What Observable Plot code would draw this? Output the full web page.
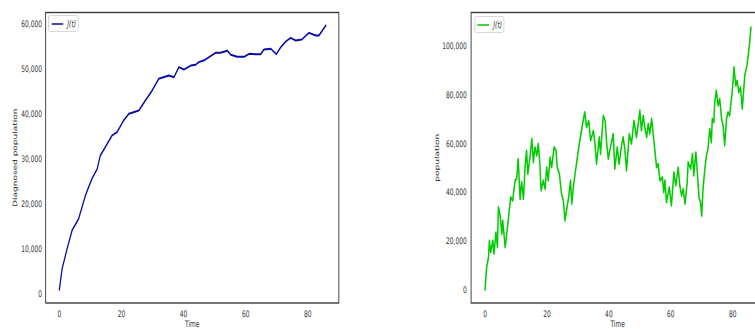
<!DOCTYPE html>
<html>
<head>
<meta charset="utf-8">
<script src="https://cdn.jsdelivr.net/npm/d3@7"></script>
<script src="https://cdn.jsdelivr.net/npm/@observablehq/plot@0.6"></script>
<style>
html, body { margin: 0; padding: 0; background: #fff; }
#outer { position: relative; width: 755px; height: 329px; overflow: hidden; background: #fff; }
#inner { position: absolute; left: 0; top: 0; height: 329px; transform-origin: 0 0; }
.panel { position: absolute; top: 0; height: 329px; }
.panel svg { max-width: none !important; display: block; }
.legend { position: absolute; box-sizing: border-box; border: 1px solid #d0d0d0; border-radius: 3px; background: #fff;
  display: flex; align-items: center; font: italic 9px "DejaVu Sans", sans-serif; color: #333; }
.legend svg { display: block; }
</style>
</head>
<body>
<div id="outer"><div id="inner"></div></div>
<script>
// ---- data ----
const tDiagnosed = [0, 0.9, 2.5, 4.1, 6.2, 8.4, 10.5, 12.2, 13.2, 14.8, 17.0, 18.6, 20.7, 22.4, 25.6, 27.7, 29.9, 32.0, 35.3, 36.9, 38.5, 40.1, 42.3, 43.9, 44.9, 46.5, 48.7, 50.3, 51.9, 54.1, 55.2, 57.3, 59.5, 61.1, 63.2, 64.8, 65.9, 68.1, 69.9, 71.3, 72.9, 74.5, 76.1, 78.1, 80.4, 82.6, 83.6, 84.7, 85.8];
const jDiagnosed = [900, 5560, 10000, 14070, 16670, 21840, 25560, 27780, 30730, 32580, 35180, 35910, 38510, 40000, 40730, 42960, 45180, 47780, 48510, 48130, 50360, 49840, 50730, 50890, 51470, 51840, 52800, 53560, 53560, 54000, 53110, 52670, 52670, 53330, 53240, 53240, 54290, 54440, 53240, 54800, 56070, 56890, 56290, 56510, 58000, 57400, 57400, 58510, 59620];

const tPopulation = [0, 0.2, 0.5, 1.1, 1.4, 1.8, 2.5, 2.9, 3.5, 4.0, 4.3, 4.8, 5.4, 5.7, 6.5, 7.0, 7.8, 8.3, 8.9, 9.7, 10.2, 10.7, 11.3, 11.8, 12.4, 12.9, 13.4, 13.8, 14.5, 15.1, 15.6, 16.1, 16.7, 17.2, 17.7, 18.1, 18.8, 19.4, 19.9, 20.4, 21.0, 21.5, 22.3, 22.9, 23.3, 24.0, 24.7, 25.3, 25.8, 26.3, 27.0, 27.6, 28.0, 28.5, 29.0, 29.8, 30.6, 31.5, 32.2, 32.8, 33.5, 34.1, 35.0, 35.5, 36.0, 36.9, 37.3, 38.2, 38.8, 39.3, 39.8, 40.5, 41.4, 41.9, 42.7, 43.3, 44.1, 44.6, 45.2, 45.7, 46.6, 47.3, 48.1, 48.9, 49.5, 50.0, 50.5, 51.1, 51.6, 52.2, 52.7, 53.2, 53.8, 54.3, 54.8, 55.4, 55.9, 56.5, 57.3, 57.7, 58.1, 58.6, 59.5, 60.2, 61.0, 61.6, 62.4, 62.9, 63.5, 64.0, 64.6, 65.3, 65.6, 66.4, 67.0, 67.4, 68.1, 68.5, 69.1, 69.6, 70.0, 70.4, 71.0, 71.5, 72.0, 72.6, 73.1, 73.4, 73.9, 74.2, 74.7, 75.3, 75.8, 76.4, 76.9, 77.4, 78.0, 78.5, 79.0, 79.6, 80.1, 80.4, 81.0, 81.4, 82.0, 82.5, 83.1, 83.5, 83.9, 84.6, 85.0, 85.5, 85.9];
const jPopulation = [0, 3700, 9200, 13300, 20200, 15400, 20200, 14700, 23600, 17400, 33900, 31200, 22900, 28400, 17400, 22900, 32500, 38000, 36600, 44900, 45600, 53800, 37300, 44200, 37300, 50300, 57200, 47600, 54400, 62000, 52400, 58600, 55100, 60000, 51700, 40700, 44900, 41400, 50300, 44900, 54400, 50300, 58600, 57200, 50300, 47600, 39400, 36600, 28400, 32500, 38000, 44900, 35300, 42100, 46900, 54400, 61300, 68200, 73000, 66800, 69500, 61300, 65400, 60000, 51700, 62700, 55800, 71600, 69500, 60000, 53800, 58600, 64100, 49700, 58600, 51700, 59300, 62700, 57200, 49000, 64100, 60000, 69500, 62700, 68200, 73700, 65400, 71600, 66800, 62700, 68200, 64100, 70300, 64100, 57900, 50300, 51700, 44900, 46200, 40000, 44900, 35900, 42100, 34600, 48300, 42800, 50300, 42800, 38700, 41400, 35300, 44200, 52400, 49700, 55800, 46900, 56500, 49700, 38000, 35900, 30400, 41400, 49700, 55100, 57900, 66100, 60600, 70300, 68800, 77100, 81900, 75700, 78500, 70300, 67500, 59300, 70300, 73000, 71600, 78500, 85300, 91500, 83900, 86000, 81200, 83300, 74400, 81200, 88100, 92200, 96300, 101800, 107900];

const xTicks = [0, 20, 40, 60, 80];
const yTicksLeft = [0, 10000, 20000, 30000, 40000, 50000, 60000];
const yTicksRight = [0, 20000, 40000, 60000, 80000, 100000];
const legendLabel = "J(t)";

// ---- layout (final pixel positions; picture is horizontally compressed) ----
const R = 0.66;
const inner = document.getElementById("inner");
inner.style.width = (780 / R) + "px";
inner.style.transform = `scaleX(${R})`;

function panel(opts) {
  const {t, v, color, lineWidth, yDomain, xDomain, yTicks, yLabel, pLeft, fLeft, fRight, pRight, yPad, yLabOff, legLeft, legTop} = opts;
  const data = t.map((d, i) => ({t: d, v: v[i]}));
  const w = (pRight - pLeft) / R;
  const chart = Plot.plot({
    width: w,
    height: 329,
    marginLeft: (fLeft - pLeft) / R,
    marginRight: (pRight - fRight) / R,
    marginTop: 12,
    marginBottom: 26.5,
    style: {fontFamily: "DejaVu Sans, sans-serif", fontSize: "9px", color: "#333", background: "transparent", overflow: "visible"},
    x: {domain: xDomain, ticks: xTicks, tickSize: 0, tickPadding: 8, label: "Time", labelAnchor: "center", labelOffset: 24, labelArrow: "none"},
    y: {domain: yDomain, ticks: yTicks, tickFormat: d3.format(","), tickSize: 0, tickPadding: yPad / R, label: yLabel, labelAnchor: "center", labelOffset: yLabOff / R, labelArrow: "none"},
    marks: [
      Plot.line(data, {x: "t", y: "v", stroke: color, strokeWidth: lineWidth, strokeLinejoin: "round"}),
      Plot.frame({stroke: "#3a3a3a", strokeWidth: 1.4})
    ]
  });
  const wrap = document.createElement("div");
  wrap.className = "panel";
  wrap.style.left = (pLeft / R) + "px";
  wrap.style.width = w + "px";
  wrap.appendChild(chart);
  inner.appendChild(wrap);

  const leg = document.createElement("div");
  leg.className = "legend";
  leg.style.left = (legLeft / R) + "px";
  leg.style.top = legTop + "px";
  leg.style.width = (30 / R) + "px";
  leg.style.height = "17px";
  leg.style.paddingLeft = (2.2 / R) + "px";
  leg.innerHTML = `<svg width="${12 / R}" height="4"><line x1="0" x2="${12 / R}" y1="2" y2="2" stroke="${color}" stroke-width="1.6"/></svg><span style="margin-left:${4.2 / R}px">${legendLabel}</span>`;
  inner.appendChild(leg);
}

panel({t: tDiagnosed, v: jDiagnosed, color: "#0a0aa8", lineWidth: 1.9, xDomain: [-4.41, 90.0], yDomain: [-2044, 62511], yTicks: yTicksLeft,
  yLabel: "Diagnosed population", pLeft: 0, fLeft: 45.3, fRight: 338.5, pRight: 345, yPad: 3.6, yLabOff: 33, legLeft: 48.3, legTop: 15});
panel({t: tPopulation, v: jPopulation, color: "#00cc00", lineWidth: 2.3, xDomain: [-4.52, 90.2], yDomain: [-5470, 113990], yTicks: yTicksRight,
  yLabel: "population", pLeft: 420, fLeft: 471, fRight: 764.2, pRight: 770, yPad: 4.3, yLabOff: 36, legLeft: 474.3, legTop: 16});
</script>
</body>
</html>
